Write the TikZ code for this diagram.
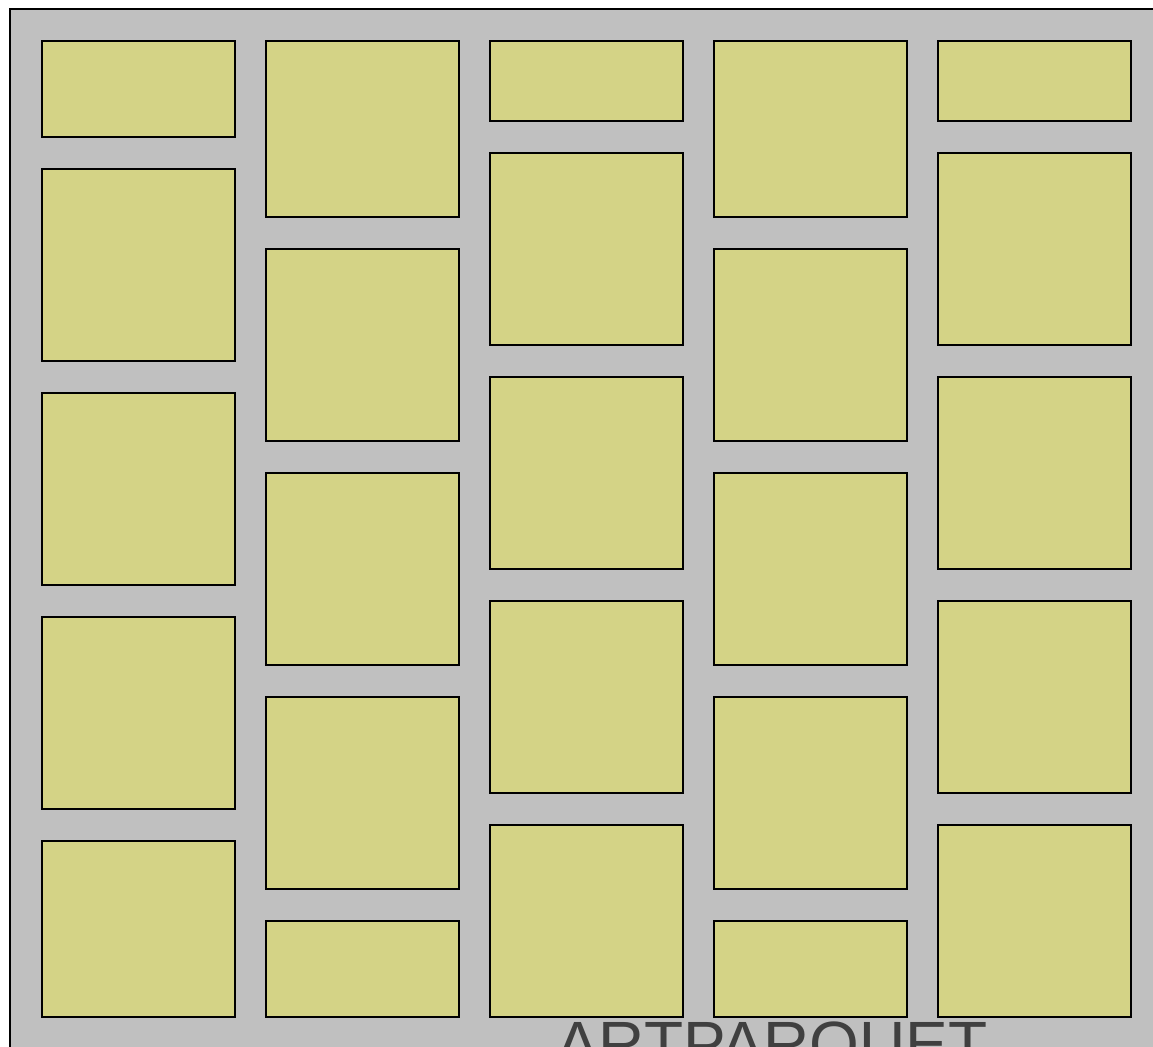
\documentclass[tikz,border=0pt]{standalone}
\usepackage{fontspec}
\setmainfont{Liberation Sans}
\usepackage{xcolor}
\definecolor{floorgrey}{RGB}{192,192,192}
\definecolor{tileyellow}{RGB}{212,211,134}
\definecolor{labelgrey}{RGB}{64,64,64}
\tikzset{tile/.style={draw=black,line width=1.5,fill=tileyellow}}

\begin{document}
\begin{tikzpicture}[x=0.75pt,y=0.75pt,yscale=-1,xscale=1]
\useasboundingbox (0,0) rectangle (1153,1046);
\clip (0,0) rectangle (1153,1046);

%Shape: Rectangle [id:floor]
\draw  [line width=1.5, fill=floorgrey] (10,9) -- (1180,9) -- (1180,1080) -- (10,1080) -- cycle ;

%Column 1
\draw  [tile] (41.5,40.5) -- (234.5,40.5) -- (234.5,137) -- (41.5,137) -- cycle ;
\draw  [tile] (41.5,168.5) -- (234.5,168.5) -- (234.5,361) -- (41.5,361) -- cycle ;
\draw  [tile] (41.5,392.5) -- (234.5,392.5) -- (234.5,585) -- (41.5,585) -- cycle ;
\draw  [tile] (41.5,616.5) -- (234.5,616.5) -- (234.5,809) -- (41.5,809) -- cycle ;
\draw  [tile] (41.5,840.5) -- (234.5,840.5) -- (234.5,1017) -- (41.5,1017) -- cycle ;
%Column 2
\draw  [tile] (265.5,40.5) -- (458.5,40.5) -- (458.5,217) -- (265.5,217) -- cycle ;
\draw  [tile] (265.5,248.5) -- (458.5,248.5) -- (458.5,441) -- (265.5,441) -- cycle ;
\draw  [tile] (265.5,472.5) -- (458.5,472.5) -- (458.5,665) -- (265.5,665) -- cycle ;
\draw  [tile] (265.5,696.5) -- (458.5,696.5) -- (458.5,889) -- (265.5,889) -- cycle ;
\draw  [tile] (265.5,920.5) -- (458.5,920.5) -- (458.5,1017) -- (265.5,1017) -- cycle ;
%Column 3
\draw  [tile] (489.5,40.5) -- (682.5,40.5) -- (682.5,121) -- (489.5,121) -- cycle ;
\draw  [tile] (489.5,152.5) -- (682.5,152.5) -- (682.5,345) -- (489.5,345) -- cycle ;
\draw  [tile] (489.5,376.5) -- (682.5,376.5) -- (682.5,569) -- (489.5,569) -- cycle ;
\draw  [tile] (489.5,600.5) -- (682.5,600.5) -- (682.5,793) -- (489.5,793) -- cycle ;
\draw  [tile] (489.5,824.5) -- (682.5,824.5) -- (682.5,1017) -- (489.5,1017) -- cycle ;
%Column 4
\draw  [tile] (713.5,40.5) -- (906.5,40.5) -- (906.5,217) -- (713.5,217) -- cycle ;
\draw  [tile] (713.5,248.5) -- (906.5,248.5) -- (906.5,441) -- (713.5,441) -- cycle ;
\draw  [tile] (713.5,472.5) -- (906.5,472.5) -- (906.5,665) -- (713.5,665) -- cycle ;
\draw  [tile] (713.5,696.5) -- (906.5,696.5) -- (906.5,889) -- (713.5,889) -- cycle ;
\draw  [tile] (713.5,920.5) -- (906.5,920.5) -- (906.5,1017) -- (713.5,1017) -- cycle ;
%Column 5
\draw  [tile] (937.5,40.5) -- (1130.5,40.5) -- (1130.5,121) -- (937.5,121) -- cycle ;
\draw  [tile] (937.5,152.5) -- (1130.5,152.5) -- (1130.5,345) -- (937.5,345) -- cycle ;
\draw  [tile] (937.5,376.5) -- (1130.5,376.5) -- (1130.5,569) -- (937.5,569) -- cycle ;
\draw  [tile] (937.5,600.5) -- (1130.5,600.5) -- (1130.5,793) -- (937.5,793) -- cycle ;
\draw  [tile] (937.5,824.5) -- (1130.5,824.5) -- (1130.5,1017) -- (937.5,1017) -- cycle ;

% Text Node
\draw (772,1066) node [anchor=base, inner sep=0pt, text=labelgrey, font=\fontsize{48}{48}\selectfont] (brand)  {ARTPARQUET};

\end{tikzpicture}
\end{document}
